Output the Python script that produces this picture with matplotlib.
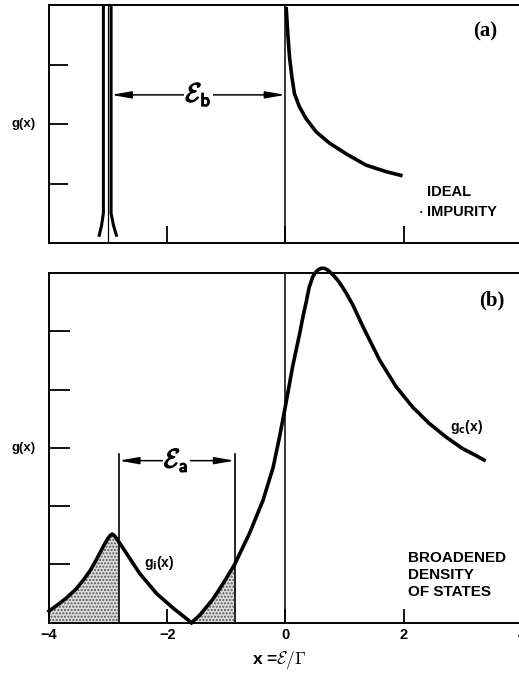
import numpy as np
import matplotlib
matplotlib.use('Agg')
import matplotlib.pyplot as plt
import matplotlib.patheffects as pe

plt.rcParams['font.family'] = ['Liberation Sans', 'DejaVu Sans']
plt.rcParams['font.weight'] = 'bold'
plt.rcParams['hatch.linewidth'] = 1.0

# (a) ideal case: conduction band edge g_c(x) falling from x = 0
ideal_x = [0.011, 0.039, 0.068, 0.107, 0.152, 0.236, 0.349, 0.518, 0.743,
           1.025, 1.36, 1.70, 1.98]
ideal_g = [3.97, 3.52, 3.13, 2.80, 2.51, 2.29, 2.09, 1.87, 1.68,
           1.50, 1.31, 1.20, 1.13]

# impurity delta line drawn as a doubled stroke that splays at the foot
imp_center = -3.01
imp_g      = [4.00, 0.50, 0.30, 0.13]
imp_left   = [-3.08, -3.08, -3.11, -3.15]
imp_right  = [-2.95, -2.95, -2.91, -2.86]

# (b) broadened impurity band g_i(x)
gi_x = [-4.00, -3.85, -3.71, -3.55, -3.42, -3.30, -3.20, -3.10, -3.06, -3.00,
        -2.96, -2.93, -2.90, -2.86, -2.82, -2.69, -2.47, -2.18, -1.90, -1.75, -1.59]
gi_g = [0.20, 0.31, 0.42, 0.57, 0.73, 0.90, 1.08, 1.27, 1.35, 1.45,
        1.50, 1.52, 1.50, 1.45, 1.39, 1.19, 0.85, 0.50, 0.25, 0.13, 0.00]

# (b) broadened conduction band g_c(x)
gc_x = [-1.59, -1.45, -1.23, -1.05, -0.86, -0.61, -0.38, -0.21, -0.10, 0.00,
        0.12, 0.24, 0.30, 0.35, 0.40, 0.46, 0.50, 0.55, 0.60, 0.65,
        0.70, 0.76, 0.82, 0.88, 0.95, 1.03, 1.14, 1.31, 1.59, 1.87,
        2.15, 2.43, 2.71, 2.99, 3.20, 3.36]
gc_g = [0.00, 0.13, 0.40, 0.68, 1.00, 1.53, 2.10, 2.66, 3.19, 3.72,
        4.39, 4.96, 5.27, 5.50, 5.75, 5.93, 6.00, 6.05, 6.08, 6.08,
        6.06, 6.01, 5.95, 5.88, 5.78, 5.65, 5.45, 5.08, 4.51, 4.05,
        3.70, 3.42, 3.19, 2.99, 2.88, 2.79]

# energy markers
eps_b = (-2.95, 0.0)      # binding energy span in (a)
eps_a = (-2.82, -0.86)    # activation energy span in (b)

xticks      = [-4, -2, 0, 2, 4]
xticklabels = ['\u22124', '\u22122', '0', '2', '4']

lw_curve = 2.6
lw_frame = 1.4
heavy = [pe.withStroke(linewidth=0.9, foreground='k')]

fig = plt.figure(figsize=(5.19, 6.79), dpi=100)
ax_a = fig.add_axes([0.0944, 0.6421, 0.9113, 0.3505])
ax_b = fig.add_axes([0.0944, 0.0829, 0.9113, 0.5151])

for ax in (ax_a, ax_b):
    ax.set_xlim(-4, 4)
    ax.set_xticks(xticks)
    for s in ax.spines.values():
        s.set_linewidth(lw_frame)
    ax.axvline(0, color='k', lw=1.1)
    ax.tick_params(direction='in', width=1.3, top=False, right=False)

arrow_kw = dict(arrowstyle='<|-|>,head_length=0.8,head_width=0.14',
                color='k', lw=1.1, shrinkA=0, shrinkB=0, mutation_scale=15)

# ---- panel (a)
ax_a.set_ylim(0, 4)
ax_a.set_yticks([1, 2, 3])
ax_a.tick_params(axis='y', length=14)
ax_a.tick_params(axis='x', length=12)
ax_a.set_xticklabels([])
ax_a.set_yticklabels([])

ax_a.plot(ideal_x, ideal_g, color='k', lw=lw_curve, solid_capstyle='butt',
          solid_joinstyle='round')
ax_a.plot(imp_left, imp_g, color='k', lw=2.2)
ax_a.plot(imp_right, imp_g, color='k', lw=2.2)
ax_a.plot([imp_center, imp_center], [0, 4], color='k', lw=0.9)

ax_a.annotate('', xy=(eps_b[0], 2.49), xytext=(eps_b[1], 2.49), arrowprops=arrow_kw)
ax_a.text(np.mean(eps_b), 2.49, r'$\mathcal{E}_\mathsf{b}$', fontsize=19,
          math_fontfamily='cm', ha='center', va='center', path_effects=heavy,
          bbox=dict(facecolor='white', edgecolor='none', pad=1))

ax_a.text(3.38, 3.55, '(a)', fontsize=15, family='Liberation Serif',
          ha='center', va='center')
ax_a.text(2.39, 0.86, 'IDEAL', fontsize=10.5, ha='left', va='center')
ax_a.text(2.27, 0.52, '\u2022', fontsize=5, ha='left', va='center')
ax_a.text(2.39, 0.52, 'IMPURITY', fontsize=10.5, ha='left', va='center')
ax_a.text(-0.053, 2, 'g(x)', fontsize=9.5, ha='center', va='center',
          transform=ax_a.get_yaxis_transform())

# ---- panel (b)
ax_b.set_ylim(0, 6)
ax_b.set_yticks([1, 2, 3, 4, 5])
ax_b.set_yticklabels([])
ax_b.tick_params(axis='y', length=15)
ax_b.tick_params(axis='x', length=10, pad=4, labelsize=10.5)
ax_b.set_xticklabels(xticklabels)

gi_x = np.array(gi_x)
gi_g = np.array(gi_g)
gc_x = np.array(gc_x)
gc_g = np.array(gc_g)

# stippled areas: impurity states below the band gap and tail states
left_part = gi_x <= eps_a[0]
right_part = gc_x <= eps_a[1]
ax_b.fill_between(gi_x[left_part], 0, gi_g[left_part], facecolor='#dcdcdc',
                  edgecolor='#555555', hatch='.....', linewidth=0)
ax_b.fill_between(gc_x[right_part], 0, gc_g[right_part], facecolor='#dcdcdc',
                  edgecolor='#555555', hatch='.....', linewidth=0)

ax_b.plot(gi_x, gi_g, color='k', lw=lw_curve, clip_on=False,
          solid_joinstyle='round')
ax_b.plot(gc_x, gc_g, color='k', lw=lw_curve, clip_on=False,
          solid_joinstyle='round')

for xe in eps_a:
    ax_b.plot([xe, xe], [0, 2.9], color='k', lw=1.2)
ax_b.annotate('', xy=(eps_a[0], 2.78), xytext=(eps_a[1], 2.78), arrowprops=arrow_kw)
ax_b.text(-1.85, 2.78, r'$\mathcal{E}_\mathsf{a}$', fontsize=19,
          math_fontfamily='cm', ha='center', va='center', path_effects=heavy,
          bbox=dict(facecolor='white', edgecolor='none', pad=1))

ax_b.text(3.49, 5.53, '(b)', fontsize=15, family='Liberation Serif',
          ha='center', va='center')
ax_b.text(-2.13, 1.02, r'g$_\mathbf{i}$(x)', fontsize=10, ha='center', va='center')
ax_b.text(2.78, 3.36, r'g$_\mathbf{c}$(x)', fontsize=10, ha='left', va='center')
ax_b.text(2.08, 0.82, 'BROADENED\nDENSITY\nOF STATES', fontsize=11,
          ha='left', va='center', linespacing=1.3)
ax_b.text(-0.053, 3, 'g(x)', fontsize=9.5, ha='center', va='center',
          transform=ax_b.get_yaxis_transform())

fig.text(279 / 519, 1 - 660 / 679, r'x =$\mathcal{E}/\Gamma$', fontsize=12.5,
         math_fontfamily='cm', ha='center', va='center')

fig.savefig('out.png', dpi=100)
